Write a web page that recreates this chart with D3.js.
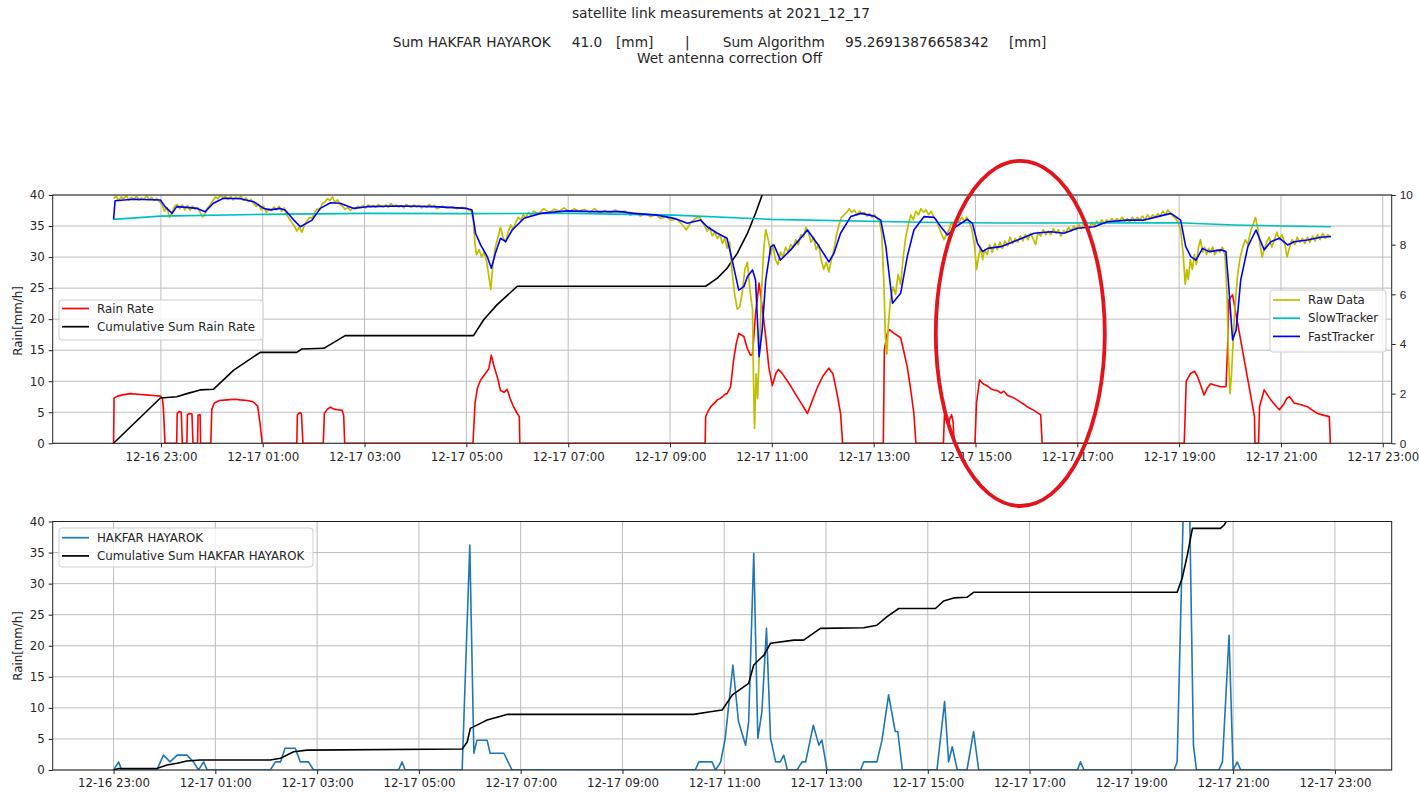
<!DOCTYPE html>
<html><head><meta charset="utf-8">
<script src="https://cdn.jsdelivr.net/npm/d3@7"></script>
<style>
html,body{margin:0;padding:0;background:#fff;}
svg{display:block;font-family:"DejaVu Sans",sans-serif;}
</style></head><body>
<svg id="chart" width="1419" height="793"></svg>
<script>
// ---------------- DATA (hours relative to 2021-12-17 00:00) ----------------
const rainRate = [[-1.93,0],[-1.92,7.3],[-1.85,7.6],[-1.75,7.8],[-1.6,8.0],[-1.45,7.9],[-1.3,7.8],[-1.15,7.7],[-1.01,7.6],[-0.97,7.2],[-0.95,5.5],[-0.92,0],
[-0.69,0],[-0.68,4.8],[-0.65,5.1],[-0.6,5.0],[-0.58,0],[-0.49,0],[-0.48,4.6],[-0.44,4.8],[-0.39,4.7],[-0.37,0],[-0.28,0],[-0.27,4.5],[-0.23,4.6],[-0.22,0],
[-0.02,0],[0.0,5.5],[0.05,6.5],[0.15,6.9],[0.3,7.0],[0.45,7.1],[0.56,7.0],[0.7,6.9],[0.81,6.7],[0.9,6.0],[0.95,3.0],[0.99,0],
[1.67,0],[1.68,4.6],[1.72,4.9],[1.76,4.8],[1.79,0],[2.19,0],[2.21,4.8],[2.27,5.5],[2.33,5.8],[2.40,5.5],[2.48,5.4],[2.56,5.3],[2.59,4.5],[2.61,0],
[5.13,0],[5.17,6.5],[5.22,9.0],[5.28,10.2],[5.37,11.2],[5.44,12.0],[5.49,14.2],[5.54,12.5],[5.62,10.3],[5.67,8.5],[5.74,8.2],[5.80,8.7],[5.86,7.2],[5.92,6.0],[6.0,4.8],[6.04,4.3],[6.05,0],
[9.69,0],[9.70,4.3],[9.75,5.2],[9.80,5.9],[9.86,6.4],[9.93,7.0],[9.98,7.2],[10.03,7.5],[10.08,7.9],[10.12,8.0],[10.19,9.1],[10.25,13.5],[10.30,16.0],[10.35,17.7],[10.45,17.2],[10.52,15.2],[10.58,14.2],[10.62,14.3],[10.68,20.9],[10.75,25.8],[10.81,22.0],[10.88,17.2],[10.94,12.3],[11.01,9.3],[11.08,11.3],[11.13,11.9],[11.2,11.3],[11.38,9.1],[11.55,6.8],[11.70,4.8],[11.80,7.0],[11.90,9.1],[12.0,10.8],[12.12,12.1],[12.2,11.2],[12.28,8.0],[12.35,4.8],[12.39,0],
[13.19,0],[13.21,15.0],[13.26,17.5],[13.31,18.3],[13.40,17.7],[13.53,17.0],[13.60,14.5],[13.66,12.3],[13.73,8.5],[13.79,4.8],[13.83,0],
[14.37,0],[14.39,4.5],[14.43,3.6],[14.46,3.0],[14.50,4.0],[14.53,4.6],[14.56,3.5],[14.58,0],
[14.99,0],[15.02,6.5],[15.08,10.2],[15.15,9.6],[15.24,9.2],[15.30,8.8],[15.36,8.6],[15.43,8.5],[15.50,8.1],[15.56,8.4],[15.63,7.7],[15.70,7.5],[15.78,7.2],[15.89,6.6],[15.95,6.3],[16.03,5.8],[16.15,5.3],[16.22,4.9],[16.28,4.6],[16.31,0],
[19.10,0],[19.14,10.0],[19.22,11.2],[19.30,11.6],[19.36,10.8],[19.43,9.2],[19.49,7.8],[19.56,9.0],[19.62,9.6],[19.72,9.3],[19.82,9.1],[19.92,9.1],[19.95,15],[19.98,23.2],[20.05,23.9],[20.15,19.3],[20.28,13.4],[20.41,7.5],[20.48,4.3],[20.49,0],
[20.56,0],[20.58,5.9],[20.67,8.6],[20.80,7.0],[20.90,6.0],[20.97,5.4],[21.07,6.5],[21.12,7.3],[21.17,7.5],[21.26,6.5],[21.4,6.2],[21.52,5.9],[21.62,5.3],[21.72,4.8],[21.85,4.5],[21.95,4.3],[21.97,0]];

const rainCum = [[-1.93,0],[-1.01,7.3],[-0.69,7.5],[-0.49,8.0],[-0.23,8.6],[0.03,8.7],[0.43,11.8],[0.95,14.65],[1.67,14.65],[1.77,15.2],[2.20,15.3],[2.62,17.35],[5.14,17.35],[5.34,19.9],[5.60,22.3],[6.00,25.3],[9.70,25.3],[9.93,26.6],[10.12,28.2],[10.32,30.6],[10.52,33.8],[10.68,37.05],[10.81,40.0],[10.95,44],[21.98,95.27]];

const rawData = [[-1.93,9.85],[-1.88,9.95],[-1.83,9.78],[-1.78,9.92],[-1.73,9.84],[-1.68,9.97],[-1.63,9.80],[-1.58,9.90],[-1.53,9.82],[-1.48,9.95],[-1.43,9.79],[-1.38,9.88],[-1.33,9.84],[-1.28,9.96],[-1.23,9.81],[-1.18,9.90],[-1.13,9.78],[-1.08,9.86],[-1.03,9.74],[-0.98,9.62],[-0.93,9.35],[-0.88,9.50],[-0.83,9.10],[-0.78,9.30],[-0.73,9.55],[-0.68,9.62],[-0.63,9.45],[-0.58,9.60],[-0.53,9.40],[-0.48,9.58],[-0.43,9.38],[-0.38,9.55],[-0.33,9.42],[-0.28,9.50],[-0.23,9.30],[-0.18,9.12],[-0.13,9.25],[-0.08,9.48],[-0.03,9.62],[0.02,9.78],[0.07,9.92],[0.12,9.85],[0.17,9.98],[0.22,9.88],[0.27,9.95],[0.32,9.82],[0.37,9.94],[0.42,9.80],[0.47,9.92],[0.52,9.86],[0.57,9.95],[0.62,9.78],[0.67,9.88],[0.72,9.74],[0.77,9.82],[0.82,9.65],[0.87,9.55],[0.92,9.62],[0.97,9.40],[1.02,9.55],[1.07,9.30],[1.12,9.45],[1.17,9.38],[1.22,9.52],[1.27,9.40],[1.32,9.55],[1.37,9.35],[1.42,9.48],[1.47,9.20],[1.52,9.05],[1.57,8.90],[1.62,8.75],[1.67,8.55],[1.72,8.70],[1.77,8.50],[1.82,8.80],[1.87,8.95],[1.92,9.10],[1.97,9.05],[2.02,9.30],[2.07,9.45],[2.12,9.40],[2.17,9.65],[2.22,9.72],[2.27,9.85],[2.32,9.78],[2.37,9.92],[2.42,9.70],[2.47,9.80],[2.52,9.62],[2.57,9.55],[2.62,9.42],[2.67,9.50],[2.72,9.38],[2.77,9.48],[2.82,9.45],[2.87,9.55],[2.92,9.50],[2.97,9.58],[3.02,9.48],[3.07,9.60],[3.12,9.52],[3.17,9.58],[3.22,9.50],[3.27,9.62],[3.32,9.55],[3.37,9.52],[3.42,9.60],[3.47,9.50],[3.52,9.66],[3.57,9.54],[3.62,9.60],[3.67,9.52],[3.72,9.58],[3.77,9.48],[3.82,9.62],[3.87,9.55],[3.92,9.50],[3.97,9.60],[4.02,9.52],[4.07,9.58],[4.12,9.48],[4.17,9.56],[4.22,9.50],[4.27,9.62],[4.32,9.52],[4.37,9.58],[4.42,9.45],[4.52,9.55],[4.62,9.48],[4.72,9.52],[4.82,9.45],[4.92,9.50],[5.02,9.42],[5.10,9.35],
[5.14,8.9],[5.17,8.0],[5.20,7.6],[5.25,7.8],[5.30,7.5],[5.35,7.7],[5.40,7.3],[5.45,6.6],[5.48,6.2],[5.52,7.2],[5.57,7.9],[5.62,8.3],[5.67,8.7],[5.72,8.3],[5.77,8.1],[5.82,8.5],[5.87,8.8],[5.92,8.6],[5.97,8.9],[6.02,9.1],[6.07,9.0],[6.12,9.2],[6.17,9.1],[6.22,9.3],[6.27,9.2],[6.32,9.35],[6.42,9.25],[6.52,9.45],[6.62,9.3],[6.72,9.42],[6.82,9.35],[6.92,9.48],[7.02,9.32],[7.12,9.45],[7.22,9.35],[7.32,9.42],[7.42,9.30],[7.52,9.45],[7.62,9.28],[7.72,9.38],[7.82,9.25],[7.92,9.40],[8.02,9.30],[8.12,9.35],[8.22,9.18],[8.32,9.28],[8.42,9.15],[8.52,9.25],[8.62,9.12],[8.72,9.22],[8.82,9.05],[8.92,9.15],[9.02,8.98],[9.12,9.05],[9.22,8.85],[9.32,8.60],[9.42,8.92],[9.50,9.05],[9.58,9.12],[9.63,8.95],[9.68,8.75],[9.73,8.55],[9.78,8.70],[9.83,8.35],[9.88,8.50],[9.93,8.25],[9.98,8.40],[10.03,8.05],[10.08,8.25],[10.12,7.85],[10.17,8.10],
[10.22,6.9],[10.27,6.0],[10.32,5.4],[10.37,5.5],[10.42,6.1],[10.47,7.0],[10.52,7.3],[10.55,6.6],[10.58,6.0],[10.62,5.4],[10.64,2.5],[10.66,0.6],[10.69,2.8],[10.72,1.8],[10.76,4.0],[10.80,6.2],[10.84,7.8],[10.88,8.6],[10.93,8.2],[10.98,7.6],[11.02,8.0],[11.07,7.4],[11.12,7.2],[11.17,7.7],[11.22,7.5],[11.27,7.9],[11.32,7.7],[11.37,8.0],[11.42,7.9],[11.47,8.2],[11.52,8.0],[11.57,8.4],[11.62,8.3],[11.67,8.7],[11.72,8.5],[11.77,8.1],[11.82,8.3],[11.87,7.8],[11.92,8.0],[11.97,7.4],[12.02,7.0],[12.07,7.3],[12.12,6.9],[12.17,7.4],[12.22,7.8],[12.27,8.4],[12.32,8.8],[12.37,9.1],[12.42,9.2],[12.47,9.3],[12.52,9.45],[12.57,9.3],[12.62,9.4],[12.67,9.2],[12.72,9.35],[12.77,9.25],[12.82,9.3],[12.87,9.15],[12.92,9.25],[12.97,9.1],[13.02,9.2],[13.07,9.05],[13.12,8.9],[13.16,8.4],
[13.20,6.5],[13.23,4.3],[13.26,3.6],[13.29,4.8],[13.33,5.8],[13.38,6.3],[13.43,6.0],[13.48,6.8],[13.53,6.4],[13.58,7.5],[13.63,8.3],[13.68,8.8],[13.73,9.2],[13.78,9.0],[13.83,9.35],[13.88,9.2],[13.93,9.45],[13.98,9.3],[14.03,9.4],[14.08,9.2],[14.13,9.35],[14.18,9.1],[14.23,9.0],[14.28,8.7],[14.33,8.45],[14.38,8.2],[14.43,8.4],[14.48,8.6],[14.53,8.9],[14.58,8.75],[14.63,9.0],[14.68,8.9],[14.73,9.1],[14.78,8.95],[14.83,9.1],[14.88,8.9],[14.93,8.6],[14.98,8.0],[15.02,7.0],[15.06,7.5],[15.10,7.9],[15.14,7.4],[15.18,7.8],
[15.23,7.6],[15.28,8.0],[15.33,7.7],[15.38,8.05],[15.43,7.8],[15.48,8.1],[15.53,7.85],[15.58,8.15],[15.63,7.95],[15.68,8.3],[15.73,8.05],[15.78,8.25],[15.83,8.1],[15.88,8.35],[15.93,8.15],[15.98,8.4],[16.03,8.2],[16.08,8.45],[16.13,8.25],[16.18,8.0],[16.23,8.5],[16.28,8.35],[16.33,8.6],[16.38,8.4],[16.43,8.55],[16.48,8.4],[16.53,8.65],[16.58,8.45],[16.63,8.6],[16.68,8.35],[16.73,8.55],[16.78,8.5],[16.83,8.7],[16.88,8.55],[16.93,8.75],[16.98,8.6],[17.03,8.8],[17.08,8.65],[17.13,8.85],[17.18,8.7],[17.23,8.6],[17.28,8.9],[17.33,8.75],[17.38,8.95],[17.43,8.8],[17.48,9.0],[17.53,8.85],[17.58,9.0],[17.63,8.9],[17.68,9.05],[17.73,8.92],[17.78,9.05],[17.83,8.95],[17.88,9.1],[17.93,8.95],[17.98,9.05],[18.03,8.9],[18.08,9.1],[18.13,8.95],[18.18,9.1],[18.23,9.0],[18.28,9.15],[18.33,9.0],[18.38,9.2],[18.43,9.05],[18.48,9.2],[18.53,9.1],[18.58,9.25],[18.63,9.15],[18.68,9.35],[18.73,9.2],[18.78,9.4],[18.83,9.25],[18.88,9.15],[18.93,9.05],[18.98,8.9],[19.03,8.6],[19.08,7.6],
[19.12,6.4],[19.15,7.0],[19.18,6.6],[19.22,7.4],[19.26,7.0],[19.30,7.6],[19.34,7.2],[19.38,7.9],[19.42,8.2],[19.46,7.7],[19.50,7.9],[19.54,7.6],[19.58,7.85],[19.62,7.7],[19.66,7.9],[19.70,7.6],[19.75,7.8],[19.80,7.7],[19.85,7.9],[19.90,7.6],[19.94,6.0],[19.97,3.5],[20.00,2.0],[20.03,2.8],[20.07,4.5],[20.11,5.8],[20.15,6.8],[20.20,7.5],[20.25,7.9],[20.30,8.2],[20.35,8.0],[20.40,8.5],[20.45,8.8],[20.50,9.1],[20.55,8.6],[20.59,8.0],[20.63,7.5],[20.67,7.8],[20.72,8.1],[20.77,8.3],[20.82,7.9],[20.87,8.2],[20.92,8.5],[20.97,8.2],[21.02,8.4],[21.07,8.1],[21.12,7.5],[21.17,7.9],[21.22,8.2],[21.27,8.0],[21.32,8.3],[21.37,8.1],[21.42,8.25],[21.47,8.05],[21.52,8.3],[21.57,8.1],[21.62,8.35],[21.67,8.15],[21.72,8.4],[21.77,8.2],[21.82,8.45],[21.87,8.25],[21.92,8.4],[21.98,8.3]];

const slowTracker = [[-1.93,9.02],[-1.01,9.15],[1.02,9.22],[3.05,9.26],[5.02,9.25],[7.11,9.26],[9.08,9.19],[10.98,9.02],[13.92,8.9],[15.50,8.87],[18.97,8.88],[20.08,8.79],[21.98,8.72]];

const fastTracker = [[-1.93,9.02],[-1.90,9.77],[-1.54,9.83],[-1.01,9.80],[-0.92,9.53],[-0.78,9.26],[-0.69,9.53],[-0.49,9.50],[-0.29,9.46],[-0.13,9.33],[0.03,9.67],[0.23,9.87],[0.56,9.85],[0.82,9.73],[1.02,9.46],[1.15,9.40],[1.34,9.46],[1.44,9.40],[1.61,8.99],[1.74,8.72],[1.97,8.99],[2.13,9.46],[2.33,9.69],[2.52,9.67],[2.79,9.46],[3.05,9.53],[3.70,9.56],[4.36,9.53],[5.01,9.46],[5.11,9.40],[5.18,8.46],[5.28,7.99],[5.41,7.52],[5.49,7.05],[5.57,7.65],[5.67,8.26],[5.77,8.12],[5.90,8.59],[6.13,9.06],[6.46,9.26],[6.98,9.36],[7.50,9.33],[8.03,9.33],[8.29,9.26],[8.75,9.19],[9.08,9.06],[9.34,8.86],[9.60,8.99],[9.73,8.72],[9.93,8.46],[10.12,8.26],[10.22,7.38],[10.35,6.17],[10.45,6.31],[10.52,6.71],[10.62,6.98],[10.68,6.58],[10.75,3.49],[10.81,4.56],[10.88,6.58],[10.98,7.92],[11.04,7.99],[11.17,7.38],[11.37,7.79],[11.70,8.59],[11.89,8.05],[12.12,7.31],[12.22,7.65],[12.35,8.46],[12.55,9.13],[12.75,9.26],[13.01,9.15],[13.14,8.99],[13.24,7.92],[13.37,5.64],[13.53,6.04],[13.66,7.52],[13.79,8.59],[13.99,9.13],[14.19,9.10],[14.32,8.72],[14.45,8.39],[14.61,8.72],[14.84,9.02],[14.94,8.86],[15.04,8.05],[15.14,7.72],[15.24,7.85],[15.50,7.92],[15.83,8.19],[16.15,8.46],[16.48,8.52],[16.74,8.46],[17.00,8.66],[17.33,8.72],[17.59,8.92],[17.99,8.99],[18.31,8.99],[18.58,9.13],[18.84,9.26],[19.03,8.99],[19.13,7.92],[19.23,7.52],[19.33,7.38],[19.46,7.85],[19.59,7.72],[19.82,7.79],[19.92,7.72],[19.98,6.17],[20.05,4.16],[20.12,4.56],[20.21,6.58],[20.35,7.92],[20.51,8.59],[20.67,7.79],[20.80,8.12],[20.97,8.26],[21.13,7.99],[21.26,8.12],[21.52,8.19],[21.78,8.30],[21.98,8.33]];

const gaugeRate = [[-1,0],[-0.9,1.3],[-0.84,0],[-0.15,0],[-0.02,2.4],[0.11,1.3],[0.25,2.4],[0.44,2.4],[0.57,1.3],[0.67,0],[0.77,1.3],[0.84,0],[2.08,0],[2.18,1.3],[2.28,1.3],[2.37,3.5],[2.57,3.5],[2.67,1.3],[2.83,1.3],[2.93,0],[4.6,0],[4.67,1.3],[4.73,0],[5.85,0],[6.0,36.2],[6.08,2.7],[6.14,4.8],[6.34,4.8],[6.40,2.7],[6.67,2.7],[6.83,0],[10.43,0],[10.50,1.3],[10.76,1.3],[10.83,0],[10.93,1.3],[11.02,5.1],[11.17,16.9],[11.28,7.8],[11.42,4.0],[11.48,7.8],[11.58,34.9],[11.66,5.1],[11.74,9.4],[11.83,22.8],[11.91,5.1],[12.01,1.3],[12.10,1.3],[12.17,2.4],[12.24,0],[12.43,0],[12.53,1.3],[12.60,1.3],[12.75,7.2],[12.86,4.0],[12.92,4.8],[13.02,0],[13.68,0],[13.74,1.3],[14.00,1.3],[14.10,4.8],[14.23,12.1],[14.36,6.2],[14.41,6.2],[14.50,0],[15.18,0],[15.33,11.0],[15.41,1.3],[15.48,3.75],[15.58,0],[15.77,0],[15.90,6.2],[16.00,0],[17.94,0],[18.00,1.3],[18.07,0],[19.84,0],[19.90,1.3],[20.03,45],[20.13,50],[20.22,4.0],[20.28,0],[20.72,0],[20.79,1.3],[20.92,21.7],[21.0,0],[21.08,1.3],[21.15,0],[22.92,0]];

const gaugeCum = [[-1,0],[-0.9,0.25],[-0.15,0.25],[0.05,0.8],[0.25,1.1],[0.44,1.45],[0.70,1.6],[2.08,1.6],[2.28,1.9],[2.54,2.95],[2.80,3.2],[5.85,3.38],[5.95,4.5],[6.01,6.7],[6.21,7.5],[6.34,8.05],[6.73,8.95],[10.40,8.95],[10.66,9.3],[10.96,9.65],[11.16,12.1],[11.48,13.95],[11.58,16.9],[11.78,18.5],[11.91,20.4],[12.37,20.9],[12.56,20.9],[12.89,22.8],[13.74,22.9],[14.00,23.3],[14.20,24.7],[14.43,26.0],[15.15,26.0],[15.31,27.2],[15.51,27.7],[15.77,27.8],[15.90,28.6],[19.90,28.6],[20.00,30.9],[20.10,34.6],[20.20,38.9],[20.75,38.9],[20.82,39.4],[20.88,40.2],[20.95,40.9],[21.15,41.0],[22.92,41.0]];

const xTickHours = [-1,1,3,5,7,9,11,13,15,17,19,21,23];
const yTicksLeft = [0,5,10,15,20,25,30,35,40];
const yTicksRight = [0,2,4,6,8,10];
const titleText = "satellite link measurements at 2021_12_17";
const subtitleParts = ["Sum HAKFAR HAYAROK","41.0","[mm]","|","Sum Algorithm","95.26913876658342","[mm]"];
const subtitle2 = "Wet antenna correction Off";
const yLabel = "Rain[mm/h]";
const topLegendLeft = [["Rain Rate","#ff0000"],["Cumulative Sum Rain Rate","#000000"]];
const topLegendRight = [["Raw Data","#bfbf00"],["SlowTracker","#00bfbf"],["FastTracker","#0000ff"]];
const bottomLegend = [["HAKFAR HAYAROK","#1f77b4"],["Cumulative Sum HAKFAR HAYAROK","#000000"]];
// annotation ellipse (center hour, center value, half-width hours, half-height value)
const markEllipse = {h:15.88, v:17.7, dh:1.66, dv:27.8};

// ---------------- DRAWING ----------------
const svg = d3.select("#chart");
const base = Date.UTC(2021,11,17,0,0,0);
const toDate = h => new Date(base + h*3600000);
const fmt = d3.utcFormat("%m-%d %H:%M");
const FS = 11.8;
const L = 52.7, R = 1391.7;
const GRID = "#bdbdbd";

function xScaleFor(series){
  const ext = d3.extent(series.flat().map(d=>d[0]));
  const pad = (ext[1]-ext[0])*0.05;
  return d3.scaleUtc().domain([toDate(ext[0]-pad), toDate(ext[1]+pad)]).range([L,R]);
}

function panel(id, top, bottom, x, y){
  const g = svg.append("g");
  g.append("clipPath").attr("id",id).append("rect")
    .attr("x",L).attr("y",top).attr("width",R-L).attr("height",bottom-top);
  g.append("g").selectAll("line.v").data(xTickHours).join("line")
    .attr("x1",d=>x(toDate(d))).attr("x2",d=>x(toDate(d)))
    .attr("y1",top).attr("y2",bottom).attr("stroke",GRID).attr("stroke-width",1);
  g.append("g").selectAll("line.h").data(yTicksLeft).join("line")
    .attr("x1",L).attr("x2",R).attr("y1",d=>y(d)).attr("y2",d=>y(d))
    .attr("stroke",GRID).attr("stroke-width",1);
  return g;
}

function axes(g, top, bottom, x, y){
  const ax = g.append("g").attr("transform",`translate(0,${bottom})`)
    .call(d3.axisBottom(x).tickValues(xTickHours.map(toDate)).tickFormat(fmt).tickSize(4).tickPadding(5));
  const ay = g.append("g").attr("transform",`translate(${L},0)`)
    .call(d3.axisLeft(y).tickValues(yTicksLeft).tickSize(4).tickPadding(4));
  [ax,ay].forEach(a=>{
    a.select(".domain").remove();
    a.selectAll("text").attr("font-size",FS).attr("fill","#262626").attr("font-family","DejaVu Sans");
    a.selectAll("line").attr("stroke","#222");
  });
  g.append("rect").attr("x",L).attr("y",top).attr("width",R-L).attr("height",bottom-top)
    .attr("fill","none").attr("stroke","#222").attr("stroke-width",1);
}

function drawLine(g, clip, data, x, y, color, w){
  g.append("path").datum(data).attr("clip-path",`url(#${clip})`)
    .attr("fill","none").attr("stroke",color).attr("stroke-width",w)
    .attr("stroke-linejoin","round")
    .attr("d", d3.line().x(d=>x(toDate(d[0]))).y(d=>y(d[1])));
}

function legend(items, bx, by, bw, bh, rowY0){
  const g = svg.append("g");
  g.append("rect").attr("x",bx).attr("y",by).attr("width",bw).attr("height",bh)
    .attr("rx",3).attr("fill","#fff").attr("fill-opacity",0.8)
    .attr("stroke","#d0d0d0").attr("stroke-width",1);
  items.forEach((it,i)=>{
    const yy = rowY0 + i*18.2;
    g.append("line").attr("x1",bx+3).attr("x2",bx+30).attr("y1",yy).attr("y2",yy)
      .attr("stroke",it[1]).attr("stroke-width",1.7);
    g.append("text").attr("x",bx+38).attr("y",yy).attr("dy","0.35em")
      .attr("font-size",FS).attr("fill","#262626").text(it[0]);
  });
}

// ---- top panel ----
const T1 = 195, B1 = 443.3;
const x1 = xScaleFor([rainRate, rainCum, rawData, slowTracker, fastTracker]);
const y1 = d3.scaleLinear().domain([0,40]).range([B1,T1]);
const y1r = d3.scaleLinear().domain([0,10]).range([B1,T1]);
const g1 = panel("clipTop", T1, B1, x1, y1);
drawLine(g1,"clipTop",rainRate,x1,y1,"#ff0000",1.6);
drawLine(g1,"clipTop",rainCum,x1,y1,"#000000",1.6);
drawLine(g1,"clipTop",rawData,x1,y1r,"#bfbf00",1.7);
drawLine(g1,"clipTop",slowTracker,x1,y1r,"#00bfbf",1.6);
drawLine(g1,"clipTop",fastTracker,x1,y1r,"#0000ff",1.6);
axes(g1,T1,B1,x1,y1);
const ayr = g1.append("g").attr("transform",`translate(${R},0)`)
  .call(d3.axisRight(y1r).tickValues(yTicksRight).tickSize(4).tickPadding(4));
ayr.select(".domain").remove();
ayr.selectAll("text").attr("font-size",FS).attr("fill","#262626");
ayr.selectAll("line").attr("stroke","#222");

// ---- bottom panel ----
const T2 = 521.5, B2 = 770;
const x2 = xScaleFor([gaugeRate, gaugeCum]);
const y2 = d3.scaleLinear().domain([0,40]).range([B2,T2]);
const g2 = panel("clipBot", T2, B2, x2, y2);
drawLine(g2,"clipBot",gaugeRate,x2,y2,"#1f77b4",1.6);
drawLine(g2,"clipBot",gaugeCum,x2,y2,"#000000",1.6);
axes(g2,T2,B2,x2,y2);

// legends
legend(topLegendLeft, 59, 300, 204, 40, 308.5);
legend(topLegendRight, 1270, 290, 116, 62, 300);
legend(bottomLegend, 59, 528, 254, 39, 537.7);

// y labels
[[321,yLabel],[646,yLabel]].forEach(([cy,t])=>{
  svg.append("text").attr("transform",`translate(22,${cy}) rotate(-90)`)
    .attr("text-anchor","middle").attr("font-size",FS).attr("fill","#262626").text(t);
});

// titles
svg.append("text").attr("x",721).attr("y",18.3).attr("text-anchor","middle")
  .attr("font-size",13.8).attr("fill","#262626").text(titleText);
const partX = [392.7,571.7,616,685,722.7,845,1009];
const st = svg.append("text").attr("y",46.7).attr("font-size",13.7).attr("fill","#262626");
subtitleParts.forEach((p,i)=> st.append("tspan").attr("x",partX[i]).text(p));
svg.append("text").attr("x",729.5).attr("y",63.3).attr("text-anchor","middle")
  .attr("font-size",13.7).attr("fill","#262626").text(subtitle2);

// red annotation ellipse
const ecx = x1(toDate(markEllipse.h)), ecy = y1(markEllipse.v);
svg.append("ellipse").attr("cx",ecx).attr("cy",ecy)
  .attr("rx", x1(toDate(markEllipse.h+markEllipse.dh)) - ecx)
  .attr("ry", y1(0) - y1(markEllipse.dv))
  .attr("fill","none").attr("stroke","#e3141c").attr("stroke-width",3.8);
</script>
</body></html>
